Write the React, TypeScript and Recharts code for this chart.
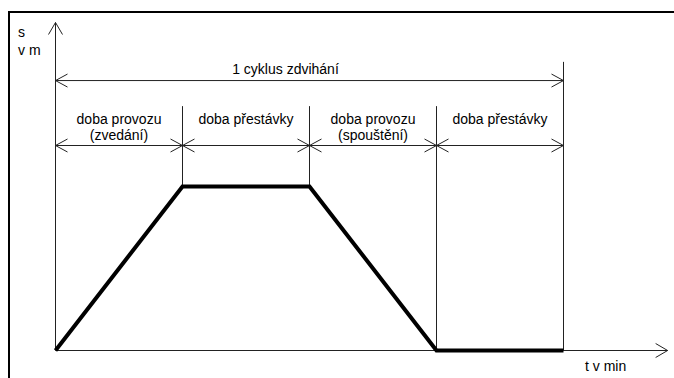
import { ComposedChart, Line, XAxis, YAxis, ReferenceLine } from "recharts";

// phase boundaries (t) and stroke height (s) of the hoist
const times = [0, 1, 2, 3, 4];
const lift = [0, 1, 1, 0, 0];
// top of the thin guide line above each boundary (index 0 = y axis, not drawn)
const guideTops = [0, 1.49, 1.49, 1.49, 1.76];
const phaseLabels = [
  ["doba provozu", "(zvedání)"],
  ["doba přestávky"],
  ["doba provozu", "(spouštění)"],
  ["doba přestávky"],
];
const cycleLabel = "1 cyklus zdvihání";
const yAxisLabel = ["s", "v m"];
const xAxisLabel = "t v min";

const X_MAX = 4.82;
const Y_MAX = 2;
const CYCLE_LEVEL = 1.646;
const PHASE_LEVEL = 1.25;

const W = 674;
const H = 378;
const FONT = "'Liberation Sans', Arial, sans-serif";
const THIN = "#222";

const data = times.map((t, i) => ({ t, s: lift[i] }));

function head(tx: number, ty: number, fx: number, fy: number, len = 12, half = 6.5) {
  const dx = tx - fx;
  const dy = ty - fy;
  const d = Math.hypot(dx, dy) || 1;
  const ux = dx / d;
  const uy = dy / d;
  const bx = tx - ux * len;
  const by = ty - uy * len;
  return `M${bx - uy * half},${by + ux * half}L${tx},${ty}L${bx + uy * half},${by - ux * half}`;
}

type ShapeProps = { x1?: number; y1?: number; x2?: number; y2?: number };

function ArrowLine({
  x1 = 0,
  y1 = 0,
  x2 = 0,
  y2 = 0,
  start = false,
  end = false,
  lines = [],
  textDx = 0,
  textDy = [],
  len = 12,
  half = 6.5,
}: ShapeProps & {
  start?: boolean;
  end?: boolean;
  lines?: string[];
  textDx?: number;
  textDy?: number[];
  len?: number;
  half?: number;
}) {
  const mx = (x1 + x2) / 2 + textDx;
  const my = (y1 + y2) / 2;
  return (
    <g>
      <line x1={x1} y1={y1} x2={x2} y2={y2} stroke={THIN} strokeWidth={1} />
      {start && <path d={head(x1, y1, x2, y2, len, half)} fill="none" stroke={THIN} strokeWidth={1} />}
      {end && <path d={head(x2, y2, x1, y1, len, half)} fill="none" stroke={THIN} strokeWidth={1} />}
      {lines.map((l, i) => (
        <text
          key={i}
          x={mx}
          y={my + (textDy[i] ?? 0)}
          textAnchor="middle"
          fontFamily={FONT}
          fontSize={14}
          fill="#000"
        >
          {l}
        </text>
      ))}
    </g>
  );
}

export default function App() {
  return (
    <div style={{ position: "absolute", left: 0, top: 0, width: W, height: H, background: "#fff", overflow: "hidden" }}>
      <div
        style={{
          position: "absolute",
          left: 8,
          top: 11,
          width: W,
          height: H,
          borderTop: "2px solid #000",
          borderLeft: "2px solid #000",
        }}
      />
      <div style={{ position: "absolute", left: 0, top: 0 }}>
        <ComposedChart
          width={W}
          height={H}
          data={data}
          margin={{ top: 22.5, right: W - 55.5 - X_MAX * 127, bottom: 27.5, left: 55.5 }}
        >
          <XAxis dataKey="t" type="number" domain={[0, X_MAX]} hide />
          <YAxis type="number" domain={[0, Y_MAX]} hide />

          {/* guide lines at the phase boundaries */}
          {times.slice(1).map((t, k) => (
            <ReferenceLine
              key={`g${t}`}
              ifOverflow="visible"
              segment={[
                { x: t, y: lift[k + 1] },
                { x: t, y: guideTops[k + 1] },
              ]}
              stroke={THIN}
              strokeWidth={1}
            />
          ))}

          {/* axes */}
          <ReferenceLine
            ifOverflow="visible"
            segment={[
              { x: 0, y: 0 },
              { x: X_MAX, y: 0 },
            ]}
            shape={(p: ShapeProps) => (
              <g>
                <ArrowLine {...p} end half={7} />
                <text x={585} y={371} fontFamily={FONT} fontSize={14} fill="#000">
                  {xAxisLabel}
                </text>
              </g>
            )}
          />
          <ReferenceLine
            ifOverflow="visible"
            segment={[
              { x: 0, y: 0 },
              { x: 0, y: Y_MAX },
            ]}
            shape={(p: ShapeProps) => (
              <g>
                <ArrowLine {...p} end half={7} />
                {yAxisLabel.map((l, i) => (
                  <text key={l} x={18} y={37 + i * 18} fontFamily={FONT} fontSize={14} fill="#000">
                    {l}
                  </text>
                ))}
              </g>
            )}
          />

          {/* whole cycle */}
          <ReferenceLine
            ifOverflow="visible"
            segment={[
              { x: times[0], y: CYCLE_LEVEL },
              { x: times[times.length - 1], y: CYCLE_LEVEL },
            ]}
            shape={(p: ShapeProps) => (
              <ArrowLine {...p} start end lines={[cycleLabel]} textDx={-24} textDy={[-7]} />
            )}
          />

          {/* phases */}
          {phaseLabels.map((lab, i) => (
            <ReferenceLine
              key={`p${i}`}
              ifOverflow="visible"
              segment={[
                { x: times[i], y: PHASE_LEVEL },
                { x: times[i + 1], y: PHASE_LEVEL },
              ]}
              shape={(p: ShapeProps) => (
                <ArrowLine
                  {...p}
                  start
                  end
                  lines={lab}
                  textDy={lab.length > 1 ? [-21.5, -5.5] : [-21.5]}
                />
              )}
            />
          ))}

          <Line
            dataKey="s"
            type="linear"
            stroke="#000"
            strokeWidth={4}
            dot={false}
            activeDot={false}
            isAnimationActive={false}
          />
        </ComposedChart>
      </div>
    </div>
  );
}
